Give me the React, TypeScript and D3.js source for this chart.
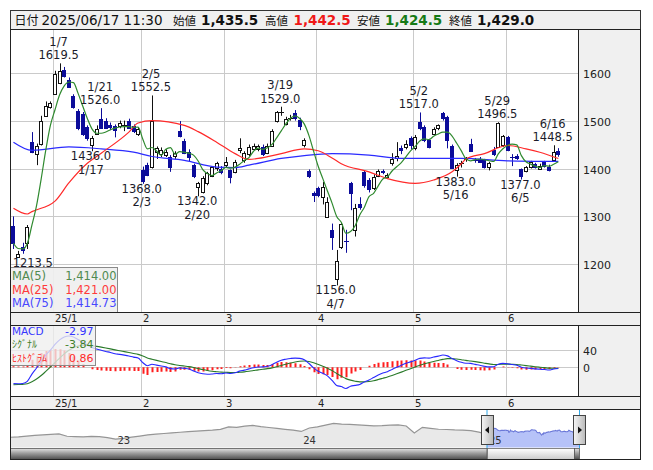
import React from "react";
import * as d3 from "d3";

const dates = ["12/18","12/19","12/20","12/23","12/24","12/25","12/26","12/27","12/30",
"1/6","1/7","1/8","1/9","1/10","1/14","1/15","1/16","1/17","1/20","1/21","1/22","1/23","1/24","1/27","1/28","1/29","1/30","1/31",
"2/3","2/4","2/5","2/6","2/7","2/10","2/12","2/13","2/14","2/17","2/18","2/19","2/20","2/21","2/25","2/26","2/27","2/28",
"3/3","3/4","3/5","3/6","3/7","3/10","3/11","3/12","3/13","3/14","3/17","3/18","3/19","3/21","3/24","3/25","3/26","3/27","3/28","3/31",
"4/1","4/2","4/3","4/4","4/7","4/8","4/9","4/10","4/11","4/14","4/15","4/16","4/17","4/18","4/21","4/22","4/23","4/24","4/25","4/28","4/30",
"5/1","5/2","5/7","5/8","5/9","5/12","5/13","5/14","5/15","5/16","5/19","5/20","5/21","5/22","5/23","5/26","5/27","5/28","5/29","5/30",
"6/2","6/3","6/4","6/5","6/6","6/9","6/10","6/11","6/12","6/13","6/16","6/17"];

const opens = [1280,1216,1236,1245,1455,1432,1452,1510,1528,
1557,1578,1606,1585,1552,1521,1514,1486,1448,1473,1504,1500,1490,1488,1488,1490,1500,1488,1473,
1396,1407,1404,1434,1430,1428,1424,1425,1479,1457,1434,1407,1361,1351,1369,1384,1400,1400,
1407,1396,1393,1437,1417,1430,1442,1440,1445,1434,1448,1499,1516,1494,1506,1515,1502,1448,1395,1349,
1359,1341,1300,1272,1168,1236,1248,1369,1272,1326,1393,1376,1359,1384,1394,1381,1411,1423,1442,1446,1463,
1442,1497,1486,1459,1473,1483,1515,1508,1448,1396,1410,1418,1452,1418,1419,1417,1403,1438,1445,1448,
1465,1425,1426,1398,1395,1403,1409,1400,1414,1403,1417,1435.5];
const highs = [1300,1228,1245,1282,1476,1452,1510,1540,1540,
1604,1619.5,1612,1590,1555,1524,1518,1490,1468,1490,1526,1505,1496,1492,1500,1500,1504,1492,1486,
1404,1412,1552.5,1446,1444,1440,1428,1436,1499,1462,1440,1410,1372,1384,1393,1405,1414,1405,
1424,1398,1418,1463,1436,1450,1452,1450,1450,1452,1482,1520,1529,1508,1512,1522,1506,1463,1398,1352,
1362,1372,1340,1285,1230,1286,1272,1372,1326,1340,1395,1380,1388,1398,1398,1390,1432,1455,1448,1459,1467,
1470,1517,1490,1462,1486,1492,1518,1510,1450,1411,1416,1424,1462,1422,1424,1420,1414,1445,1496.5,1470,
1468,1430,1430,1400,1405,1416,1412,1410,1416,1408,1448.5,1442.5];
const lows = [1232,1213.5,1222,1232,1432,1407,1448,1508,1525,
1555,1576,1590,1568,1525,1480,1468,1458,1436,1470,1484,1484,1480,1465,1484,1478,1484,1474,1468,
1368,1384,1400,1420,1424,1424,1393,1420,1465,1430,1414,1380,1342,1348,1365,1382,1395,1388,
1402,1369,1390,1432,1412,1426,1438,1436,1426,1430,1445,1496,1510,1490,1500,1500,1480,1444,1380,1330,
1340,1325,1298,1230,1156,1232,1224,1313,1258,1314,1360,1350,1355,1382,1388,1378,1406,1415,1430,1440,1440,
1438,1480,1455,1442,1470,1480,1500,1442,1400,1383,1402,1414,1435,1412,1412,1400,1396,1426,1443,1445,
1436,1405,1418,1377,1392,1400,1400,1398,1402,1394,1414,1424.5];
const closes = [1244,1222,1230,1278,1434,1448,1500,1531,1536,
1598,1604,1594,1571,1529,1486,1473,1463,1463,1483,1486,1486,1486,1480,1495,1490,1486,1478,1483,
1372,1386,1500,1442,1438,1434,1403,1432,1469,1432,1424,1383,1370,1380,1390,1403,1411,1393,
1414,1382,1414,1442,1432,1444,1448,1446,1430,1448,1479,1517,1518,1504,1506,1504,1490,1459,1384,1345,
1345,1361,1331,1257,1206,1284,1246,1349,1317,1319,1365,1357,1383,1395,1391,1386,1419,1427,1438,1452,1448,
1466,1484,1459,1444,1483,1490,1504,1459,1403,1407,1411,1421,1438,1416,1413,1403,1411,1430,1495,1467,
1438,1424,1422,1383,1403,1414,1403,1406,1405,1396,1434,1429];

const priceTicks = [1200, 1300, 1400, 1500, 1600];
const macdTicks = [0, 40];
const monthStarts = ["1/6", "2/3", "3/3", "4/1", "5/1", "6/2"];
const monthLabels = ["25/1", "2", "3", "4", "5", "6"];

const ma25Dates = ["12/18","12/23","12/24","1/6","1/9","1/16","1/21","1/29","1/31","2/5","2/17","2/20","2/27","3/5","3/10","3/12","3/19","3/27","4/1","4/4","4/8","4/16","4/22","5/1","5/9","5/15","5/19","5/20","5/26","6/2","6/6","6/11","6/17"];
const ma25Values = [1317,1305,1310,1332,1370,1411,1432,1476,1495,1500,1490,1477,1455,1431,1419,1421,1431,1441,1437,1422,1410,1393,1379,1369,1376,1393,1410,1420,1431,1448,1441,1434,1421];
const ma75Dates = ["12/18","12/24","1/9","1/21","1/30","2/5","2/17","2/27","3/5","3/10","3/19","3/27","4/4","4/16","4/25","5/9","5/19","6/2","6/17"];
const ma75Values = [1455,1438,1445,1441,1434,1425,1417,1403,1402,1407,1421,1427,1431,1428,1421,1421,1421,1416,1414.73];

const macdSeeds = [1265, 1304, -41]; // EMA12, EMA26, signal before first day

const highMarks = ["1/7", "1/21", "2/5", "3/19", "5/2", "5/29", "6/16"];
const lowMarks = ["12/19", "1/17", "2/3", "2/20", "4/7", "5/16", "6/5"];

const navHistory = [1083,1110,1150,1190,1216,1245,1275,1140,1125,1110,1130,1118,1060,975,1020,1090,1150,1220,1260,1300,1340,1375,1410,1445,1470,1495,1540,1690,1660,1730,1770,1700,1650,1600,1545,1500,1420,1620,1690,1790,1890,1850,1830,1800,1770,1745,1760,1790,1800,1740,1330,1660,1600,1548,1535,1510,1500,1470,1380,1250];
const navYears = ["23", "24", "25"];
const navYearAt = [13, 36, 59];

const headerItems = [
  { label: "始値", value: "1,435.5", color: "#111" },
  { label: "高値", value: "1,442.5", color: "#f01818" },
  { label: "安値", value: "1,424.5", color: "#167a16" },
  { label: "終値", value: "1,429.0", color: "#111" },
];
const maLegend = [
  { name: "MA(5)", value: "1,414.00", color: "#4f8a4f" },
  { name: "MA(25)", value: "1,421.00", color: "#ff3a3a" },
  { name: "MA(75)", value: "1,414.73", color: "#4848ff" },
];
const macdLegend = [
  { name: "MACD", value: "-2.97", color: "#3535ff", jp: false },
  { name: "ｼｸﾞﾅﾙ", value: "-3.84", color: "#3f7f2a", jp: true },
  { name: "ﾋｽﾄｸﾞﾗﾑ", value: "0.86", color: "#ff2a2a", jp: true },
];

const NUM = "'DejaVu Sans', Verdana, sans-serif";
const JP = "'Noto Sans CJK JP', sans-serif";

const L = 10.5, R = 640.5, PR = 578.5;
const MAIN_T = 29.5, MAIN_B = 312.5, S1_B = 325.5, MACD_B = 396.5, S2_B = 409.5, NAV_B = 459.5;
const LEG_T = 267.5, LEG_R = 117.5;

export default function App() {
  const n = dates.length;
  const x = d3.scaleLinear().domain([0, n - 1]).range([13.45, 558.3]);
  const y = d3.scaleLinear().domain([1200, 1600]).range([264.3, 72.7]);
  const ym = d3.scaleLinear().domain([0, 40]).range([367.3, 350]);
  const px = (i: number) => Math.round(x(i));
  const idx = (d: string) => dates.indexOf(d);

  const ma5 = closes.map((_, i) => d3.mean(closes.slice(Math.max(0, i - 4), i + 1)) as number);
  const k12 = 2 / 13, k26 = 2 / 27, k9 = 2 / 10;
  let e12 = macdSeeds[0], e26 = macdSeeds[1], sg = macdSeeds[2];
  const macd: number[] = [], signal: number[] = [], hist: number[] = [];
  closes.forEach((c) => {
    e12 += k12 * (c - e12);
    e26 += k26 * (c - e26);
    const m = e12 - e26;
    sg += k9 * (m - sg);
    macd.push(m); signal.push(sg); hist.push(m - sg);
  });

  const lineDaily = d3.line<number>().x((_, i) => x(i)).y((v) => y(v)).curve(d3.curveMonotoneX);
  const knotLine = d3.line<[number, number]>().x((d) => x(d[0])).y((d) => y(d[1])).curve(d3.curveMonotoneX);
  const macdLine = d3.line<number>().x((_, i) => x(i)).y((v) => ym(v)).curve(d3.curveMonotoneX);
  const ma25Pts = ma25Dates.map((d, i) => [idx(d), ma25Values[i]] as [number, number]);
  const ma75Pts = ma75Dates.map((d, i) => [idx(d), ma75Values[i]] as [number, number]);

  const monthX = monthStarts.map((d) => px(idx(d)) - 1.5);

  // navigator
  const xnH = d3.scaleLinear().domain([0, navHistory.length - 1]).range([10.5, 487]);
  const xnS = d3.scaleLinear().domain([0, n - 1]).range([487, 579]);
  const yn = d3.scaleLinear().domain([900, 2000]).range([440.4, 421.5]);
  const navBase = 447.5;
  const areaH = d3.area<number>().x((_, i) => xnH(i)).y0(navBase).y1((v) => yn(v));
  const lineH = d3.line<number>().x((_, i) => xnH(i)).y((v) => yn(v));
  const areaS = d3.area<number>().x((_, i) => xnS(i)).y0(navBase).y1((v) => yn(v));
  const lineS = d3.line<number>().x((_, i) => xnS(i)).y((v) => yn(v));

  const candles = dates.map((d, i) => {
    const a = px(i);
    const o = opens[i], c = closes[i];
    const down = c < o;
    const col = down ? "#0c0c9a" : "#111";
    const top = y(Math.max(o, c)), bot = y(Math.min(o, c));
    const h = bot - top;
    return (
      <g key={d}>
        <line x1={a + 0.5} x2={a + 0.5} y1={y(highs[i])} y2={y(lows[i])} stroke={col} strokeWidth={1} />
        {h < 1.2 ? (
          <line x1={a - 2} x2={a + 3} y1={Math.round(top) + 0.5} y2={Math.round(top) + 0.5} stroke={col} strokeWidth={1} />
        ) : (
          <rect x={a - 1.5} y={Math.round(top) + 0.5} width={3} height={Math.max(1, Math.round(h))} fill={down ? "#0c0c9a" : "#fff"} stroke={col} strokeWidth={1} />
        )}
      </g>
    );
  });

  const FS = 11.5;
  const textW = (s: string) => s.length * 7.1;
  const underLegend = (cx: number, by: number) => by > LEG_T && cx - 15 < LEG_R;
  const markLabels: JSX.Element[] = [];
  highMarks.forEach((d) => {
    const i = idx(d);
    const v = highs[i].toFixed(1);
    const w = Math.max(textW(v), textW(d));
    const cx = Math.min(Math.max(x(i) - 1, L + w / 2 + 1), PR - w / 2 - 1);
    const yy = y(highs[i]);
    markLabels.push(
      <g key={"h" + d} fontFamily={NUM} fontSize={FS} fill="#1b1b2a" textAnchor="middle">
        <text x={cx} y={yy - 17.5}>{d}</text>
        <text x={cx} y={yy - 4}>{v}</text>
      </g>
    );
  });
  lowMarks.forEach((d) => {
    const i = idx(d);
    const v = lows[i].toFixed(1);
    const w = Math.max(textW(v), textW(d));
    const cx = Math.min(Math.max(x(i) - 1, L + w / 2 + 1), PR - w / 2 - 1);
    const yy = y(lows[i]);
    markLabels.push(
      <g key={"l" + d} fontFamily={NUM} fontSize={FS} fill="#1b1b2a" textAnchor="middle">
        <text x={cx} y={yy + 9}>{v}</text>
        {underLegend(cx, yy + 22) ? null : <text x={cx} y={yy + 22.5}>{d}</text>}
      </g>
    );
  });

  const headerX = [173, 265, 357, 449];
  const headerVX = [201, 293.5, 385, 477];

  return (
    <div style={{ position: "absolute", left: 0, top: 0 }}>
      <svg width={653} height={470} style={{ display: "block", background: "#fff" }}>
        <defs>
          <clipPath id="mainClip"><rect x={L} y={MAIN_T} width={PR - L} height={MAIN_B - MAIN_T} /></clipPath>
          <clipPath id="macdClip"><rect x={L} y={S1_B} width={PR - L} height={MACD_B - S1_B} /></clipPath>
          <linearGradient id="trackG" x1="0" y1="0" x2="0" y2="1">
            <stop offset="0" stopColor="#e2e2e2" />
            <stop offset="0.45" stopColor="#9a9a9a" />
            <stop offset="1" stopColor="#4c4c4c" />
          </linearGradient>
          <linearGradient id="thumbG" x1="0" y1="0" x2="0" y2="1">
            <stop offset="0" stopColor="#ffffff" />
            <stop offset="1" stopColor="#c9c9c9" />
          </linearGradient>
          <linearGradient id="handleG" x1="0" y1="0" x2="1" y2="0">
            <stop offset="0" stopColor="#f6f6f6" />
            <stop offset="1" stopColor="#b9b9b9" />
          </linearGradient>
        </defs>

        {/* header */}
        <rect x={L} y={10.5} width={R - L} height={19} fill="#f0f0f0" stroke="#333" strokeWidth={1} />
        <text x={14.5} y={24.5} fontFamily={JP} fontSize={12} fill="#111">日付</text>
        <text x={41.5} y={24.5} fontFamily={NUM} fontSize={13.5} fill="#111">2025/06/17 11:30</text>
        {headerItems.map((h, i) => (
          <g key={h.label}>
            <text x={headerX[i]} y={24.5} fontFamily={JP} fontSize={11.5} fill="#111">{h.label}</text>
            <text x={headerVX[i]} y={24.5} fontFamily={NUM} fontSize={13.5} fontWeight="bold" fill={h.color}>{h.value}</text>
          </g>
        ))}

        {/* main panel */}
        <rect x={PR} y={MAIN_T} width={R - PR} height={MAIN_B - MAIN_T} fill="#f0f0f0" />
        <g stroke="#cacaca" strokeWidth={1}>
          {priceTicks.map((t) => (
            <line key={t} x1={L} x2={PR} y1={Math.round(y(t)) + 0.5} y2={Math.round(y(t)) + 0.5} />
          ))}
          {monthX.map((mx, i) => (
            <line key={i} x1={mx} x2={mx} y1={MAIN_T} y2={MAIN_B} />
          ))}
        </g>
        {priceTicks.map((t) => (
          <text key={t} x={583} y={Math.round(y(t)) + 4.5} fontFamily={NUM} fontSize={11} fill="#222">{t}</text>
        ))}
        <g clipPath="url(#mainClip)">
          {candles}
          <path d={knotLine(ma75Pts) || ""} fill="none" stroke="#2b2bff" strokeWidth={1.2} />
          <path d={knotLine(ma25Pts) || ""} fill="none" stroke="#ff2a2a" strokeWidth={1.2} />
          <path d={lineDaily(ma5) || ""} fill="none" stroke="#2f8a2f" strokeWidth={1.2} />
          {markLabels}
        </g>
        {/* MA legend */}
        <rect x={L} y={LEG_T} width={LEG_R - L} height={MAIN_B - LEG_T} fill="#efefef" fillOpacity={0.93} stroke="#8a8a8a" strokeWidth={1} />
        {maLegend.map((m, i) => (
          <g key={m.name} fontFamily={NUM} fontSize={11.5} fill={m.color}>
            <text x={12} y={280 + i * 13.5}>{m.name}</text>
            <text x={116.5} y={280 + i * 13.5} textAnchor="end">{m.value}</text>
          </g>
        ))}

        {/* strip 1 */}
        <rect x={L} y={MAIN_B} width={R - L} height={S1_B - MAIN_B} fill="#efefef" />
        {monthLabels.map((m, i) => (
          <text key={m} x={monthX[i] + 1.5} y={322} fontFamily={NUM} fontSize={10} fill="#222">{m}</text>
        ))}

        {/* MACD panel */}
        <rect x={PR} y={S1_B} width={R - PR} height={MACD_B - S1_B} fill="#f0f0f0" />
        <g stroke="#cacaca" strokeWidth={1}>
          {macdTicks.map((t) => (
            <line key={t} x1={L} x2={PR} y1={Math.round(ym(t)) + 0.5} y2={Math.round(ym(t)) + 0.5} />
          ))}
          {monthX.map((mx, i) => (
            <line key={i} x1={mx} x2={mx} y1={S1_B} y2={MACD_B} />
          ))}
        </g>
        {macdTicks.map((t) => (
          <text key={t} x={583} y={Math.round(ym(t)) + 4.5} fontFamily={NUM} fontSize={11} fill="#222">{t}</text>
        ))}
        <g clipPath="url(#macdClip)">
          {hist.map((h, i) => (
            <line key={i} x1={px(i) + 0.5} x2={px(i) + 0.5} y1={ym(0)} y2={ym(h)} stroke="#ff1e1e" strokeWidth={2} />
          ))}
          <path d={macdLine(signal) || ""} fill="none" stroke="#2a7a2a" strokeWidth={1.1} />
          <path d={macdLine(macd) || ""} fill="none" stroke="#2828ff" strokeWidth={1.1} />
        </g>
        <rect x={L} y={S1_B} width={85} height={40} fill="#eeeeee" fillOpacity={0.78} stroke="#8a8a8a" strokeWidth={1} />
        {macdLegend.map((m, i) => (
          <g key={m.name} fill={m.color}>
            <text x={12} y={334.5 + i * 13.5} fontFamily={m.jp ? JP : NUM} fontSize={m.jp ? 10 : 10.5}>{m.name}</text>
            <text x={93.5} y={334.5 + i * 13.5} fontFamily={NUM} fontSize={11} textAnchor="end">{m.value}</text>
          </g>
        ))}

        {/* strip 2 */}
        <rect x={L} y={MACD_B} width={R - L} height={S2_B - MACD_B} fill="#efefef" />
        {monthLabels.map((m, i) => (
          <text key={m} x={monthX[i] + 1.5} y={407} fontFamily={NUM} fontSize={10} fill="#222">{m}</text>
        ))}

        {/* navigator */}
        <path d={areaH(navHistory) || ""} fill="#e9e9e9" />
        <path d={lineH(navHistory) || ""} fill="none" stroke="#959595" strokeWidth={1.2} />
        <path d={areaS(closes) || ""} fill="#b6c2f8" />
        <path d={lineS(closes) || ""} fill="none" stroke="#6b78d8" strokeWidth={1.1} />
        {navYears.map((yr, i) => (
          <text key={yr} x={xnH(navYearAt[i]) + 2} y={444} fontFamily={NUM} fontSize={10} fill="#333">{yr}</text>
        ))}
        <line x1={487} x2={487} y1={S2_B} y2={448} stroke="#30a8e8" strokeWidth={1} />
        <line x1={579.5} x2={579.5} y1={S2_B} y2={448} stroke="#30a8e8" strokeWidth={1} />
        {/* scrollbar */}
        <rect x={L} y={448.5} width={487 - L} height={11} fill="url(#trackG)" stroke="#555" strokeWidth={0.8} />
        <rect x={487.5} y={448.5} width={87} height={11} fill="url(#thumbG)" stroke="#666" strokeWidth={0.8} />
        <rect x={574.5} y={448.5} width={5} height={11} fill="url(#trackG)" stroke="#555" strokeWidth={0.8} />
        {/* handles */}
        <rect x={481.5} y={415.5} width={12} height={29} fill="url(#handleG)" stroke="#444" strokeWidth={1} />
        <path d="M485,430 L489,426.5 L489,433.5 Z" fill="#111" />
        <rect x={573.5} y={415.5} width={12} height={29} fill="url(#handleG)" stroke="#444" strokeWidth={1} />
        <path d="M582,430 L578,426.5 L578,433.5 Z" fill="#111" />

        {/* frames */}
        <g fill="none" stroke="#222" strokeWidth={1}>
          <rect x={L} y={MAIN_T} width={R - L} height={NAV_B - MAIN_T} />
          <line x1={PR} x2={PR} y1={MAIN_T} y2={MAIN_B} />
          <line x1={PR} x2={PR} y1={S1_B} y2={MACD_B} />
          <line x1={L} x2={R} y1={MAIN_B} y2={MAIN_B} />
          <line x1={L} x2={R} y1={S1_B} y2={S1_B} />
          <line x1={L} x2={R} y1={MACD_B} y2={MACD_B} />
          <line x1={L} x2={R} y1={S2_B} y2={S2_B} />
        </g>
      </svg>
    </div>
  );
}
